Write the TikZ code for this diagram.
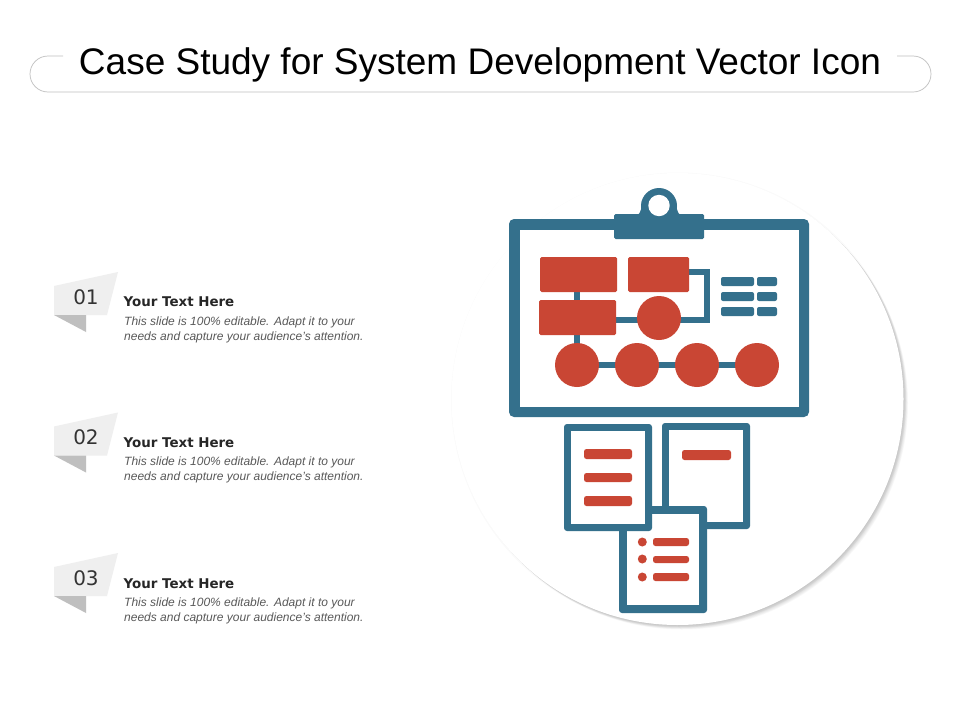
\documentclass[tikz,border=0pt]{standalone}
\usepackage{fontspec}
\setmainfont{Liberation Sans}
\newfontfamily\dejavu{DejaVu Sans}
\usetikzlibrary{calc}
\definecolor{teal1}{HTML}{34708C}
\definecolor{red1}{HTML}{C94634}
\definecolor{framegray}{HTML}{BFBFBF}
\definecolor{lightflag}{HTML}{EFEFEF}
\definecolor{darkflag}{HTML}{BFBFBF}
\definecolor{bodygray}{HTML}{595959}
\definecolor{titledark}{HTML}{262626}
\newcommand{\framedbox}[6]{%
  \fill[teal1,rounded corners=#6pt] (#1,#2) rectangle (#3,#4);
  \fill[white] ({#1+#5},{#2+#5}) rectangle ({#3-#5},{#4-#5});
}
\tikzset{
  x=1pt,y=-1pt,
  redbar/.style={fill=red1,rounded corners=2.5pt},
  tealbar/.style={fill=teal1,rounded corners=2pt},
  reddot/.style={circle,fill=red1,inner sep=0pt,minimum size=44pt},
  redrect/.style={fill=red1,rounded corners=1.5pt,inner sep=0pt,minimum height=35pt},
  wire/.style={draw=teal1,line width=6.3pt},
  numlabel/.style={font=\dejavu\fontsize{20}{24}\selectfont,text=black!80,inner sep=0pt},
  headlabel/.style={font=\dejavu\bfseries\fontsize{13.4}{16}\selectfont,text=titledark,inner sep=0pt,anchor=base west},
  bodylabel/.style={font=\itshape\fontsize{12}{14}\selectfont,text=bodygray,inner sep=0pt,anchor=base west},
}
\begin{document}
\begin{tikzpicture}
\useasboundingbox (0,0) rectangle (960,720);
\fill[white] (0,0) rectangle (960,720);
% title frame
\draw[framegray,line width=0.7pt] (63,56) -- (48,56) arc[start angle=270,end angle=90,radius=18] -- (913,92) arc[start angle=90,end angle=-90,radius=18] -- (897,56);
\node[inner sep=0pt,font=\fontsize{37}{44}\selectfont] (title) at (480,65) {Case Study for System Development Vector Icon};
% big circle with soft shadow
\fill[black,opacity=0.02] (678.5,400) circle (227.5);
\foreach \d in {0.5,1,...,4.5}{
  \fill[black,opacity=0.024] ({677.5+\d},{399+\d}) circle (226);
}
\fill[white] (677.5,399) circle (226);
% clip
\fill[teal1] (659,206) circle (18);
\fill[teal1] (638,215) .. controls (641,212) and (642,207) .. (642,200) -- (676,200) .. controls (676,207) and (677,212) .. (680,215) -- cycle;
% board
\framedbox{509}{219}{809}{417}{10.5}{5}
\fill[teal1,rounded corners=1.5pt] (614,214) rectangle (704,239);
\fill[white] (659,205.5) circle (10.7);
% flow chart nodes
\coordinate (r1) at (578.5,274.5);
\coordinate (r2) at (658.5,274.5);
\coordinate (r3) at (577.5,317.5);
\coordinate (c1) at (577,365);
\coordinate (c4) at (757,365);
\coordinate (bendA) at (706.7,272);
\coordinate (bendB) at (706.7,319.7);
\draw[wire] (c1) -- (c4);
\draw[wire] (c1) -- (c1 |- r1);
\draw[wire,line join=miter] (r2 |- bendA) -- (bendA) -- (bendB) -- (r3 |- bendB);
\node[redrect,minimum width=77pt] (box1) at (r1) {};
\node[redrect,minimum width=61pt] (box2) at (r2) {};
\node[redrect,minimum width=77pt] (box3) at (r3) {};
\node[reddot] (dot0) at (659,318) {};
\node[reddot] (dot1) at (c1) {};
\node[reddot] (dot2) at (637,365) {};
\node[reddot] (dot3) at (697,365) {};
\node[reddot] (dot4) at (c4) {};
% small table
\foreach \y in {277,292,307}{
  \fill[tealbar] (721,\y) rectangle (754,\y+9);
  \fill[tealbar] (757,\y) rectangle (777,\y+9);
}
% documents
\framedbox{662}{423}{750}{529}{7.2}{3}
\fill[redbar] (682,450) rectangle (731,460);
\framedbox{619}{506}{707}{613}{7.6}{3}
\framedbox{564}{424}{652}{531}{7.2}{3}
\fill[redbar] (584,449) rectangle (632,459);
\fill[redbar] (584,473) rectangle (632,482);
\fill[redbar] (584,496) rectangle (632,506);
\foreach \y/\a/\b in {542/538/546,559/556/563,577/573/581}{
  \fill[red1] (642.3,\y) circle (4.5);
  \fill[redbar] (653,\a) rectangle (689,\b);
}
% list items
\foreach \i/\n/\d/\e/\h in {1/01/0/0/0,2/02/140.5/140/141,3/03/281/281/282}{
  \begin{scope}[yshift=-\d pt]
    \fill[lightflag] (54,286) -- (118,272) -- (107,315) -- (54,315) -- cycle;
    \fill[darkflag] (54,315) -- (86,315) -- (86,332) -- cycle;
    \node[numlabel] (num\i) at (86,297) {\n};
  \end{scope}
  \begin{scope}[yshift=-\h pt]
    \node[headlabel] (head\i) at (123.5,306) {Your Text Here};
  \end{scope}
  \begin{scope}[yshift=-\e pt]
    \node[bodylabel] (bodyA\i) at (124,325.5) {This slide is 100\% editable. Adapt it to your};
    \node[bodylabel] (bodyB\i) at (124,340) {needs and capture your audience's attention.};
  \end{scope}
}
\end{tikzpicture}
\end{document}
